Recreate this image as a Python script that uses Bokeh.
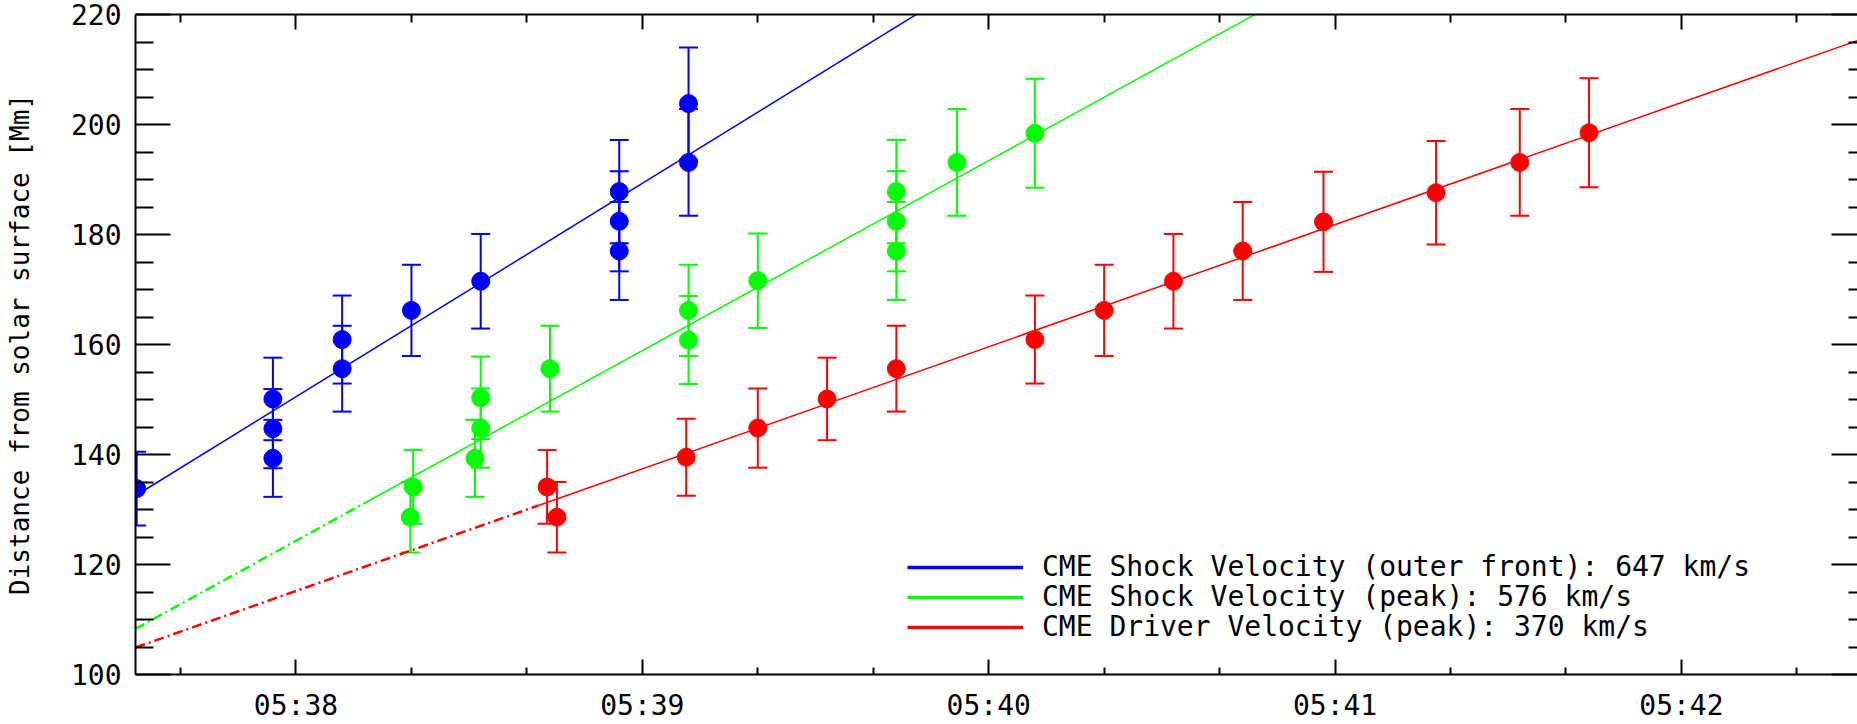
from bokeh.plotting import figure
from bokeh.models import (Range1d, FixedTicker, LinearAxis, Whisker, TeeHead,
                          ColumnDataSource, Legend, LegendItem)
from bokeh.embed import file_html
from bokeh.resources import INLINE

# ---------------- data (time = seconds after 05:37:00 UT, distance in Mm) -------------
blue_t = [32.4, 56, 56, 56, 68, 68, 80, 92, 116, 116, 116, 128, 128]
blue_d = [133.8, 150.1, 144.7, 139.3, 160.9, 155.6, 166.2, 171.5, 187.8, 182.4, 177.0, 203.8, 193.1]
blue_err = [6.7, 7.5, 7.2, 7.0, 8.0, 7.8, 8.3, 8.6, 9.4, 9.1, 8.9, 10.2, 9.7]

green_t = [80.3, 79.8, 92, 92, 91, 104, 128, 128, 140, 164, 164, 164, 174.5, 188]
green_d = [134.1, 128.6, 150.3, 144.8, 139.3, 155.6, 166.2, 160.8, 171.6, 187.8, 182.4, 177.0, 193.1, 198.4]
green_err = [6.7, 6.4, 7.5, 7.2, 7.0, 7.8, 8.3, 8.0, 8.6, 9.4, 9.1, 8.9, 9.7, 9.9]

red_t = [103.5, 105.2, 127.6, 140, 152, 164, 188, 200, 212, 224, 238, 257.5, 272, 284]
red_d = [134.1, 128.6, 139.5, 144.8, 150.1, 155.6, 160.9, 166.2, 171.5, 177.0, 182.3, 187.6, 193.1, 198.5]
red_err = [6.7, 6.4, 7.0, 7.2, 7.5, 7.8, 8.0, 8.3, 8.6, 8.9, 9.1, 9.4, 9.7, 9.9]

series_colors = ["#0000ff", "#00ff00", "#ff0000"]
fit_labels = ["CME Shock Velocity (outer front): 647 km/s",
              "CME Shock Velocity (peak): 576 km/s",
              "CME Driver Velocity (peak): 370 km/s"]
fit_velocity_kms = [647, 576, 370]
fit_d_at_start = [132.5, 108.3, 104.9]   # Mm at the start of the time axis
fit_solid_from = [32.2, 72.0, 102.0]     # before this time the fit is drawn dash-dot

t_start, t_end = 32.2, 330.5
d_min, d_max = 100, 220

x_ticks = [60, 120, 180, 240, 300]
x_tick_labels = ["05:38", "05:39", "05:40", "05:41", "05:42"]
x_minor_ticks = [40, 80, 100, 140, 160, 200, 220, 260, 280, 320]
y_ticks = [100, 120, 140, 160, 180, 200, 220]
y_minor_ticks = [v for v in range(100, 221, 5) if v % 20 != 0]

FONT = "DejaVu Sans Mono"

# ---------------- figure ----------------
p = figure(width=1857, height=724, output_backend="svg", toolbar_location=None,
           x_range=Range1d(t_start, t_end), y_range=Range1d(d_min, d_max),
           min_border_left=135, min_border_right=0, min_border_top=14, min_border_bottom=48,
           x_axis_location=None, y_axis_location=None)
p.grid.visible = False
p.outline_line_color = None
p.background_fill_color = "white"
p.border_fill_color = "white"

xtick = FixedTicker(ticks=x_ticks, minor_ticks=x_minor_ticks)
ytick = FixedTicker(ticks=y_ticks, minor_ticks=y_minor_ticks)


def style_axis(ax, tick_in, minor_in, labels=True):
    ax.axis_line_color = "black"
    ax.axis_line_width = 2
    ax.major_tick_line_color = "black"
    ax.minor_tick_line_color = "black"
    ax.major_tick_line_width = 2
    ax.minor_tick_line_width = 2
    ax.major_tick_in = tick_in
    ax.major_tick_out = 0
    ax.minor_tick_in = minor_in
    ax.minor_tick_out = 0
    ax.major_label_text_font = FONT
    ax.major_label_text_color = "black"
    if labels:
        ax.major_label_text_font_size = "28px"
    else:
        ax.major_label_text_font_size = "0px"
        ax.major_label_standoff = 0


bottom = LinearAxis(ticker=xtick)
style_axis(bottom, 15, 7)
bottom.major_label_overrides = {t: s for t, s in zip(x_ticks, x_tick_labels)}
bottom.major_label_standoff = 14
p.add_layout(bottom, "below")

top = LinearAxis(ticker=xtick)
style_axis(top, 15, 8, labels=False)
top.major_label_overrides = {t: "" for t in x_ticks}
p.add_layout(top, "above")

left = LinearAxis(ticker=ytick, axis_label="Distance from solar surface [Mm]")
style_axis(left, 35, 18)
left.major_label_standoff = 14
left.axis_label_text_font = FONT
left.axis_label_text_font_size = "26px"
left.axis_label_text_font_style = "normal"
left.axis_label_text_color = "black"
left.axis_label_standoff = 33
p.add_layout(left, "left")

right = LinearAxis(ticker=ytick)
style_axis(right, 26, 9, labels=False)
right.axis_line_color = None
right.major_label_overrides = {t: "" for t in y_ticks}
p.add_layout(right, "right")

# ---------------- fits ----------------
legend_items = []
for color, label, v, d0, ts in zip(series_colors, fit_labels, fit_velocity_kms,
                                   fit_d_at_start, fit_solid_from):
    slope = v / 1000.0  # Mm per second
    if ts > t_start:
        p.line([t_start, ts], [d0, d0 + slope * (ts - t_start)],
               line_color=color, line_width=2.5, line_dash="10 4 2 4")
    p.line([ts, t_end], [d0 + slope * (ts - t_start), d0 + slope * (t_end - t_start)],
           line_color=color, line_width=1.5)
    # legend-only swatch (thicker line), placed outside the visible range
    r_leg = p.line(x=[t_start - 60, t_start - 50], y=[d0, d0],
                   line_color=color, line_width=3.5)
    legend_items.append(LegendItem(label=label, renderers=[r_leg]))

# ---------------- data points with error bars ----------------
for color, ts, ds, es in [(series_colors[0], blue_t, blue_d, blue_err),
                          (series_colors[1], green_t, green_d, green_err),
                          (series_colors[2], red_t, red_d, red_err)]:
    src = ColumnDataSource(dict(t=ts, d=ds,
                                lo=[a - b for a, b in zip(ds, es)],
                                hi=[a + b for a, b in zip(ds, es)]))
    w = Whisker(source=src, base="t", upper="hi", lower="lo", dimension="height",
                line_color=color, line_width=2,
                upper_head=TeeHead(size=19, line_color=color, line_width=2),
                lower_head=TeeHead(size=19, line_color=color, line_width=2))
    p.add_layout(w)
    p.scatter("t", "d", source=src, marker="circle", size=18,
              fill_color=color, line_color=color)

# one legend box per row so the rows sit 30 px apart, as in the original
for i, item in enumerate(legend_items):
    lg = Legend(items=[item], location=(772, 91 - 30 * i), padding=0, margin=0,
                spacing=0, glyph_width=116, glyph_height=28, label_height=28,
                label_standoff=19, label_text_font=FONT, label_text_font_size="28px",
                label_text_color="black",
                background_fill_alpha=0, border_line_alpha=0)
    p.add_layout(lg, "center")

open("out.html", "w").write(file_html(p, INLINE))
